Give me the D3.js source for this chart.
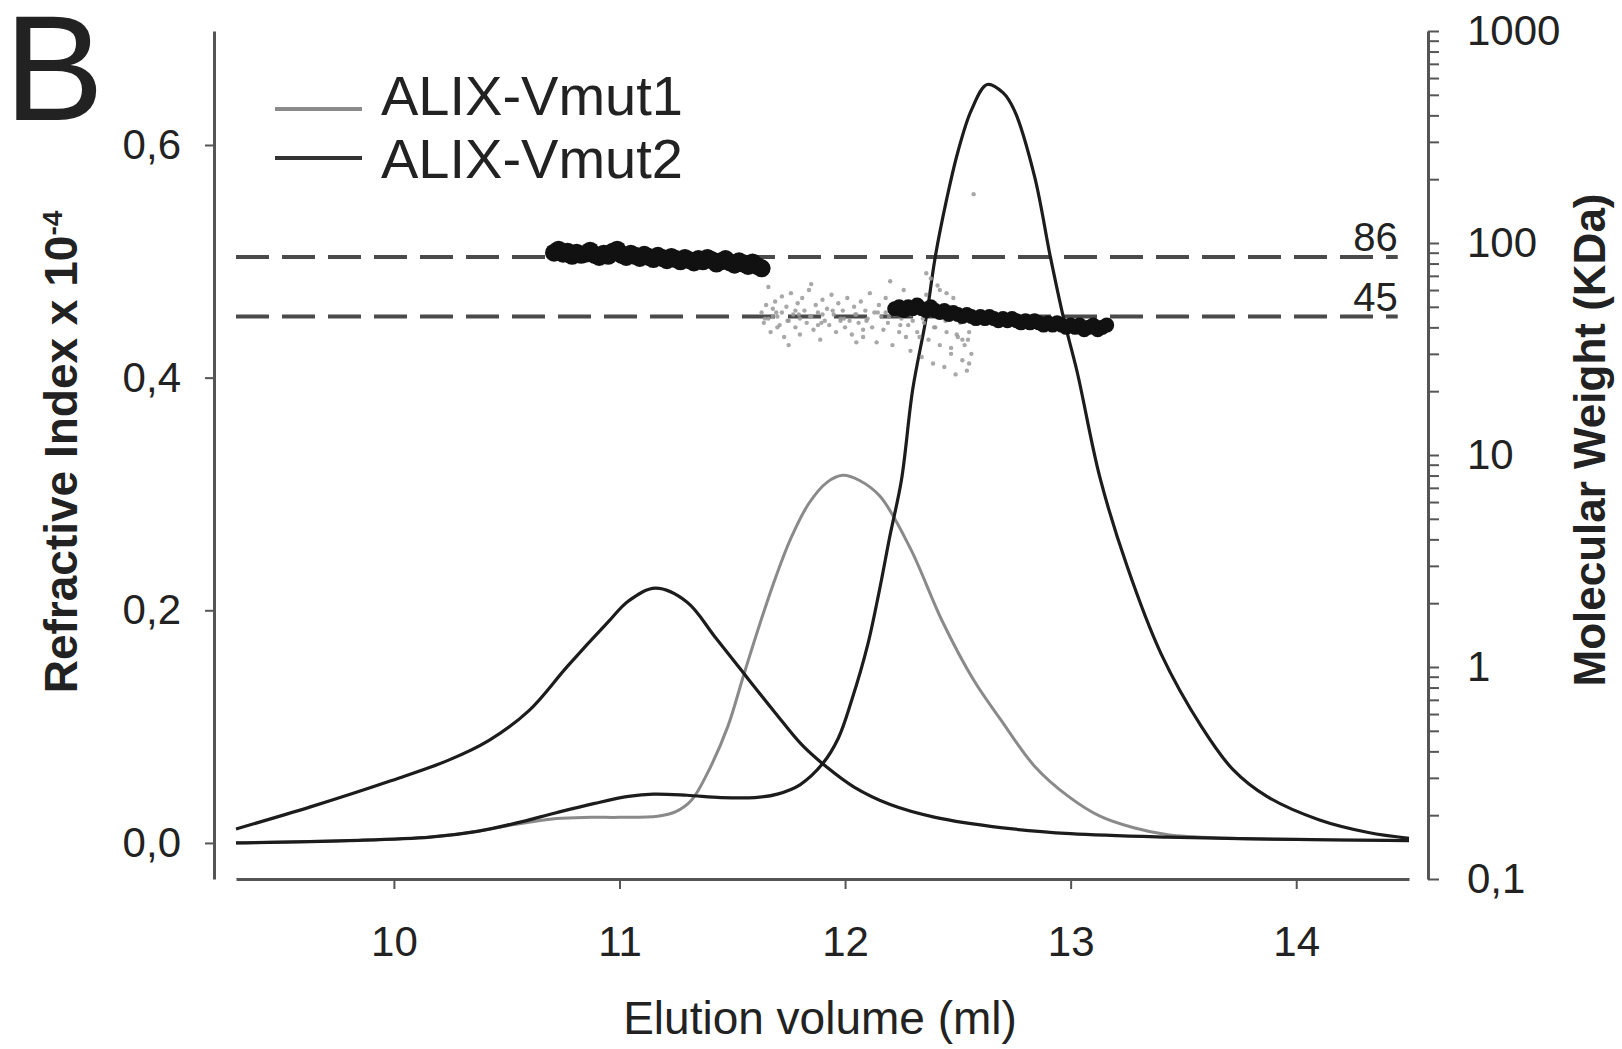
<!DOCTYPE html>
<html>
<head>
<meta charset="utf-8">
<script src="https://cdn.jsdelivr.net/npm/d3@7"></script>
<style>
  html, body { margin: 0; padding: 0; background: #fff; }
  svg { display: block; }
  text { font-family: "Liberation Sans", Arial, Helvetica, sans-serif; fill: #222; }
</style>
</head>
<body>
<svg id="chart" width="1622" height="1049"></svg>
<script>
// ---------------- DATA ----------------
const xTicks = [10, 11, 12, 13, 14];
const yLeftTicks = [0.0, 0.2, 0.4, 0.6];
const yRightMajor = [0.1, 1, 10, 100, 1000];
const legendLabels = ["ALIX-Vmut1", "ALIX-Vmut2"];
const refMW = [86, 45];
const refLabels = ["86", "45"];
const refRange = [9.3, 14.45];

// Refractive index traces (elution volume in ml, RI x 10^-4)
const vmut1X = [9.30, 9.80, 10.16, 10.37, 10.54, 10.72, 10.87, 11.00, 11.17, 11.25, 11.32, 11.39, 11.48, 11.55, 11.62, 11.69, 11.76, 11.84, 11.92, 11.99, 12.06, 12.155, 12.29, 12.43, 12.57, 12.69, 12.84, 12.99, 13.13, 13.28, 13.43, 13.70, 14.00, 14.50];
const vmut1Y = [0.000, 0.002, 0.005, 0.010, 0.016, 0.021, 0.022, 0.022, 0.023, 0.027, 0.037, 0.060, 0.100, 0.144, 0.187, 0.227, 0.262, 0.292, 0.310, 0.316, 0.312, 0.298, 0.253, 0.191, 0.140, 0.106, 0.066, 0.040, 0.023, 0.013, 0.007, 0.004, 0.003, 0.002];

const vmut2aX = [9.30, 9.63, 9.98, 10.24, 10.42, 10.60, 10.77, 10.95, 11.04, 11.16, 11.30, 11.42, 11.55, 11.69, 11.81, 11.92, 12.04, 12.20, 12.40, 12.70, 13.00, 13.43, 14.00, 14.50];
const vmut2aY = [0.012, 0.031, 0.053, 0.071, 0.088, 0.114, 0.152, 0.190, 0.208, 0.219, 0.207, 0.178, 0.146, 0.112, 0.084, 0.065, 0.048, 0.033, 0.022, 0.013, 0.008, 0.005, 0.003, 0.002];

const vmut2bX = [9.30, 9.80, 10.16, 10.37, 10.54, 10.72, 10.89, 11.04, 11.15, 11.30, 11.45, 11.60, 11.70, 11.80, 11.90, 11.97, 12.03, 12.10, 12.15, 12.20, 12.25, 12.30, 12.36, 12.40, 12.45, 12.50, 12.56, 12.63, 12.70, 12.75, 12.84, 12.91, 12.97, 13.03, 13.13, 13.25, 13.40, 13.58, 13.72, 13.87, 14.10, 14.32, 14.50];
const vmut2bY = [0.000, 0.002, 0.005, 0.010, 0.017, 0.026, 0.034, 0.040, 0.042, 0.041, 0.039, 0.039, 0.042, 0.050, 0.068, 0.090, 0.123, 0.170, 0.215, 0.265, 0.312, 0.390, 0.452, 0.504, 0.553, 0.594, 0.630, 0.652, 0.645, 0.630, 0.573, 0.504, 0.450, 0.404, 0.314, 0.238, 0.163, 0.100, 0.063, 0.040, 0.020, 0.009, 0.004];

// Molecular weight points (ml, KDa)
const mwVmut1X = [11.63,11.64,11.65,11.66,11.67,11.68,11.69,11.70,11.71,11.72,11.72,11.73,11.74,11.75,11.76,11.77,11.78,11.79,11.80,11.80,11.81,11.82,11.83,11.84,11.85,11.86,11.87,11.88,11.89,11.90,11.91,11.92,11.93,11.94,11.95,11.96,11.97,11.98,11.99,12.00,12.01,12.02,12.03,12.04,12.05,12.06,12.07,12.08,12.09,12.10,12.11,12.12,12.13,12.14,12.15,12.16,12.17,12.18,12.19,12.20,12.21,12.22,12.23,12.24,12.25,12.26,12.27,12.28,12.29,12.30,12.31,12.32,12.33,12.34,12.35,12.36,12.37,12.38,12.39,12.40,12.41,12.42,12.43,12.44,12.45,12.46,12.47,12.48,12.49,12.50,12.51,12.52,12.53,12.54,12.55,12.56,11.66,11.75,11.85,12.05,12.20,12.36,12.38,12.42,12.45,12.50,12.52,12.55,12.57,11.70,11.90,11.68,11.78,11.88,11.98,12.08,12.18,12.28,12.33,12.47,11.645,11.695,11.745,11.795,11.845,11.895,11.945,11.995,12.045,12.095,12.145,12.195,12.245,12.295,12.345,12.395,12.445,12.495,12.545];
const mwVmut1Y = [47,42,51,44,38,49,53,45,41,56,47,36,50,43,58,46,40,52,44,37,55,48,42,60,45,39,51,47,35,54,43,49,41,57,46,38,52,44,48,40,55,43,37,50,46,42,53,36,48,44,58,40,47,34,51,45,39,55,42,48,33,46,52,38,44,60,36,49,31,43,54,38,47,29,42,57,35,46,27,40,63,33,50,26,38,44,30,55,24,36,42,28,33,25,38,30,62,33,64,34,66,72,68,60,58,48,35,27,170,40,46,45,48,41,43,39,47,41,36,32,44,47,43,46,45,42,48,44,46,43,47,45,41,46,44,40,43,37,35];

const mwVmut2aX = [10.71,10.73,10.75,10.77,10.79,10.81,10.83,10.85,10.87,10.89,10.91,10.93,10.95,10.97,10.99,11.01,11.03,11.05,11.07,11.09,11.11,11.13,11.15,11.17,11.19,11.21,11.23,11.25,11.27,11.29,11.31,11.33,11.35,11.37,11.39,11.41,11.43,11.45,11.47,11.49,11.51,11.53,11.55,11.57,11.59,11.61,11.63];
const mwVmut2aY = [90,93,89,91,87,90,88,89,92,88,86,89,87,91,93,88,86,89,87,85,88,86,84,87,85,83,86,84,82,85,83,81,84,82,85,83,80,82,84,81,79,82,80,78,81,78,76];

const mwVmut2bX = [12.22,12.24,12.26,12.28,12.30,12.32,12.34,12.36,12.38,12.40,12.42,12.44,12.46,12.48,12.50,12.52,12.54,12.56,12.58,12.60,12.62,12.64,12.66,12.68,12.70,12.72,12.74,12.76,12.78,12.80,12.82,12.84,12.86,12.88,12.90,12.92,12.94,12.96,12.98,13.00,13.02,13.04,13.06,13.08,13.10,13.12,13.14,13.16];
const mwVmut2bY = [49,50,48,50,49,51,49,48,50,48,47,48,46,47,46,45,46,45,44,45,44,45,44,43,44,43,44,43,42,43,42,43,42,41,42,41,42,41,40,41,40,41,39,40,41,39,40,41];

// ---------------- CHART ----------------
const svg = d3.select("#chart");
svg.append("rect").attr("width", 1622).attr("height", 1049).attr("fill", "#fff");

const x = d3.scaleLinear().domain([9.3, 14.5]).range([236, 1409]);
const yL = d3.scaleLinear().domain([-0.031, 0.698]).range([879, 31]);
const yR = d3.scaleLog().domain([0.1, 1000]).range([879, 31]);

const axisColor = "#555";
const fmtComma = d => String(d).replace(".", ",");

// x axis
const gx = svg.append("g").attr("transform", "translate(0,879)")
  .call(d3.axisBottom(x).tickValues(xTicks).tickSize(10).tickPadding(37).tickSizeOuter(0).tickFormat(d3.format("d")));
// left axis
const gyl = svg.append("g").attr("transform", "translate(214,0)")
  .call(d3.axisLeft(yL).tickValues(yLeftTicks).tickSize(9).tickPadding(24).tickSizeOuter(0)
    .tickFormat(d => d.toFixed(1).replace(".", ",")));
// right axis (log)
const gyr = svg.append("g").attr("transform", "translate(1428,0)")
  .call(d3.axisRight(yR).tickValues(yR.ticks()).tickSize(11).tickPadding(28).tickSizeOuter(0)
    .tickFormat(d => yRightMajor.some(m => Math.abs(m - d) < 1e-9) ? fmtComma(d) : ""));

[gx, gyl, gyr].forEach(g => {
  g.select(".domain").attr("stroke", axisColor).attr("stroke-width", 3);
  g.selectAll(".tick line").attr("stroke", axisColor).attr("stroke-width", 2);
  g.selectAll(".tick text").attr("font-size", 42).attr("fill", "#222")
    .attr("font-family", "'Liberation Sans', Arial, sans-serif");
});

// reference dashed lines
refMW.forEach((v, i) => {
  svg.append("line")
    .attr("x1", x(refRange[0])).attr("x2", x(refRange[1]))
    .attr("y1", yR(v)).attr("y2", yR(v))
    .attr("stroke", "#4a4a4a").attr("stroke-width", 4)
    .attr("stroke-dasharray", "33,13");
  svg.append("text")
    .attr("x", x(refRange[1])).attr("y", yR(v) - 6)
    .attr("text-anchor", "end").attr("font-size", 40).attr("fill", "#333")
    .text(refLabels[i]);
});

// RI curves
const line = d3.line().x(d => x(d[0])).y(d => yL(d[1])).curve(d3.curveCatmullRom.alpha(0.5));
const zip = (a, b) => a.map((v, i) => [v, b[i]]);

svg.append("path").datum(zip(vmut1X, vmut1Y)).attr("d", line)
  .attr("fill", "none").attr("stroke", "#8a8a8a").attr("stroke-width", 3);
svg.append("path").datum(zip(vmut2aX, vmut2aY)).attr("d", line)
  .attr("fill", "none").attr("stroke", "#1c1c1c").attr("stroke-width", 3.2);
svg.append("path").datum(zip(vmut2bX, vmut2bY)).attr("d", line)
  .attr("fill", "none").attr("stroke", "#1c1c1c").attr("stroke-width", 3.2);

// MW points
svg.append("g").selectAll("circle").data(zip(mwVmut1X, mwVmut1Y)).join("circle")
  .attr("cx", d => x(d[0])).attr("cy", d => yR(d[1])).attr("r", 2.2)
  .attr("fill", "#999").attr("opacity", 0.85);
svg.append("g").selectAll("circle").data(zip(mwVmut2aX, mwVmut2aY)).join("circle")
  .attr("cx", d => x(d[0])).attr("cy", d => yR(d[1])).attr("r", 9)
  .attr("fill", "#111");
svg.append("g").selectAll("circle").data(zip(mwVmut2bX, mwVmut2bY)).join("circle")
  .attr("cx", d => x(d[0])).attr("cy", d => yR(d[1])).attr("r", 7.5)
  .attr("fill", "#111");

// legend
const legendColors = ["#8a8a8a", "#333"];
const legendLineY = [109, 158];
const legendTextY = [115, 178];
legendLabels.forEach((lab, i) => {
  svg.append("line").attr("x1", 275).attr("x2", 362)
    .attr("y1", legendLineY[i]).attr("y2", legendLineY[i])
    .attr("stroke", legendColors[i]).attr("stroke-width", 4);
  svg.append("text").attr("x", 381).attr("y", legendTextY[i])
    .attr("font-size", 56).attr("fill", "#1a1a1a").text(lab);
});

// axis titles
svg.append("text")
  .attr("transform", "translate(820,1034)")
  .attr("text-anchor", "middle").attr("font-size", 46).attr("fill", "#333")
  .text("Elution volume (ml)");

const lt = svg.append("text")
  .attr("transform", "translate(77,452) rotate(-90)")
  .attr("text-anchor", "middle").attr("font-size", 46).attr("font-weight", "bold").attr("fill", "#222");
lt.append("tspan").text("Refractive Index x 10");
lt.append("tspan").attr("dy", "-0.55em").attr("font-size", 28).text("-4");

svg.append("text")
  .attr("transform", "translate(1605,440) rotate(-90)")
  .attr("text-anchor", "middle").attr("font-size", 44).attr("font-weight", "bold").attr("fill", "#222")
  .text("Molecular Weight (KDa)");

// panel letter
svg.append("text").attr("x", 4).attr("y", 120)
  .attr("font-size", 150).attr("fill", "#000").text("B");
</script>
</body>
</html>
